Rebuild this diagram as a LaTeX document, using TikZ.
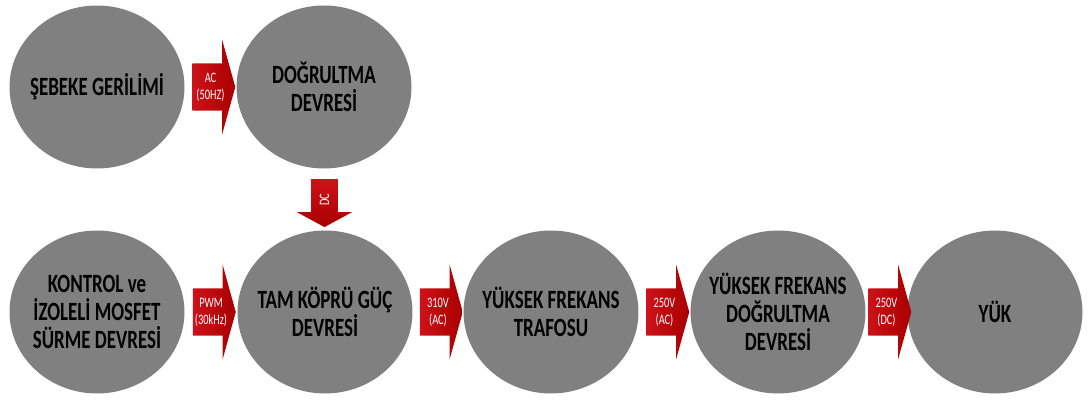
\documentclass[tikz,border=0pt]{standalone}
\usepackage{fontspec}
\setmainfont{Carlito}[FakeStretch=0.72]
\usetikzlibrary{shapes.geometric,shapes.arrows,calc}

\definecolor{blockgray}{RGB}{128,128,128}
\definecolor{arrowred}{RGB}{205,18,26}
\definecolor{arrowdark}{RGB}{168,0,0}

\begin{document}
\begin{tikzpicture}[x=0.02cm, y=-0.02cm,
  block/.style={ellipse, fill=blockgray, minimum width=3.5cm, minimum height=3.26cm,
    inner xsep=-1cm, inner ysep=0pt, align=center, font=\bfseries\fontsize{15}{16}\selectfont},
  flow/.style={single arrow, draw=none, left color=arrowred, right color=arrowdark,
    minimum height=0.86cm, minimum width=1.9cm, single arrow head extend=0.47cm,
    single arrow tip angle=149, inner xsep=0pt, inner ysep=0.17cm, text=white, align=center,
    font=\fontsize{8.2}{9.8}\selectfont},
  downflow/.style={single arrow, draw=none, top color=arrowred, bottom color=arrowdark,
    shape border rotate=270, minimum height=0.96cm, minimum width=1.1cm,
    single arrow head extend=0.27cm, single arrow tip angle=123, inner xsep=0.15cm,
    inner ysep=0pt, text=white, font=\fontsize{8.2}{9.8}\selectfont}]
\useasboundingbox (0,0) rectangle (1092,401);

\def\ytop{87}
\def\ybot{312}

% top row
\node[block] (sebeke) at (97,\ytop) {ŞEBEKE GERİLİMİ};
\node[block] (dogrultma) at (324,\ytop) {DOĞRULTMA\\DEVRESİ};

% bottom row
\node[block] (kontrol) at (97,\ybot) {KONTROL ve\\İZOLELİ MOSFET\\SÜRME DEVRESİ};
\node[block] (tamkopru) at (325,\ybot) {TAM KÖPRÜ GÜÇ\\DEVRESİ};
\node[block] (trafo) at (551,\ybot) {YÜKSEK FREKANS\\TRAFOSU};
\node[block] (hfdogrultma) at (778,\ybot) {YÜKSEK FREKANS\\DOĞRULTMA\\DEVRESİ};
\node[block] (yuk) at (995,\ybot) {YÜK};

% block arrows
\node[flow] (ac) at ($(sebeke.east)!0.5!(dogrultma.west)$) {AC\\(50HZ)};
\node[downflow] (dc) at ($(dogrultma.south)!0.5!(tamkopru.north)$) {\rotatebox{90}{DC}};
\node[flow] (pwm) at ($(kontrol.east)!0.5!(tamkopru.west)$) {PWM\\(30kHz)};
\node[flow] (ac310) at ($(tamkopru.east)!0.5!(trafo.west)$) {310V\\(AC)};
\node[flow] (ac250) at ($(trafo.east)!0.5!(hfdogrultma.west)$) {250V\\(AC)};
\node[flow] (dc250) at ($(hfdogrultma.east)!0.5!(yuk.west)$) {250V\\(DC)};
\end{tikzpicture}
\end{document}
